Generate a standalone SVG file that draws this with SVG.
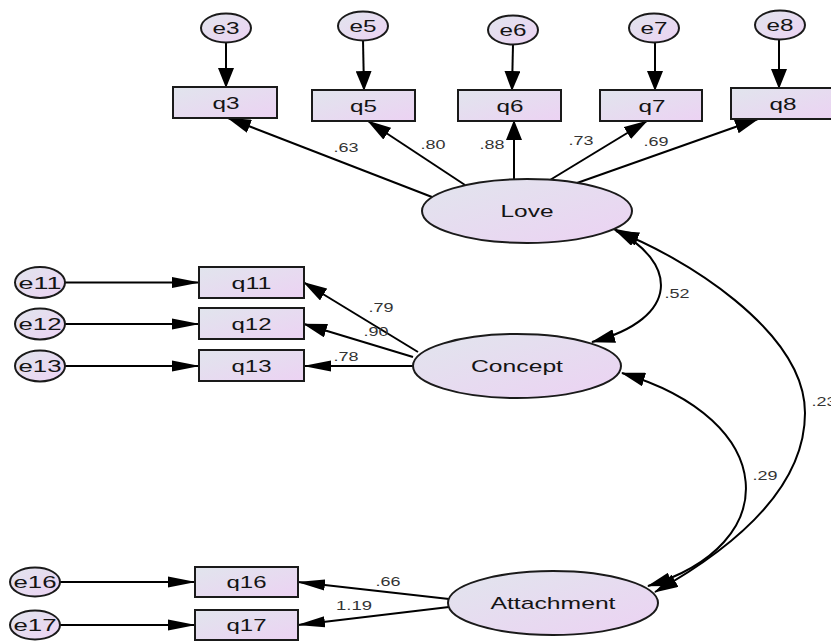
<svg xmlns="http://www.w3.org/2000/svg" width="831" height="643" viewBox="0 0 831 643">
<defs>
<linearGradient id="fillG" x1="0" y1="0" x2="1" y2="1">
<stop offset="0" stop-color="#e1e5ed"/>
<stop offset="1" stop-color="#ecd2f3"/>
</linearGradient>
<marker id="ah" markerUnits="userSpaceOnUse" markerWidth="28" markerHeight="12" refX="27" refY="5.5" orient="auto" viewBox="0 0 28 11"><path d="M0,0 L28,5.5 L0,11 z" fill="#000"/></marker>
<marker id="av" markerUnits="userSpaceOnUse" markerWidth="20" markerHeight="16" refX="19" refY="8" orient="auto" viewBox="0 0 20 16"><path d="M0,0 L20,8 L0,16 z" fill="#000"/></marker>
<marker id="ad" markerUnits="userSpaceOnUse" markerWidth="24" markerHeight="14" refX="23" refY="7" orient="auto" viewBox="0 0 24 14"><path d="M0,0 L24,7 L0,14 z" fill="#000"/></marker>
<marker id="ac" markerUnits="userSpaceOnUse" markerWidth="24" markerHeight="14" refX="23" refY="7" orient="auto-start-reverse" viewBox="0 0 24 14"><path d="M0,0 L24,7 L0,14 z" fill="#000"/></marker>
<style>
.box{fill:url(#fillG);stroke:#1a1a1a;stroke-width:2}
.lat{fill:url(#fillG);stroke:#1a1a1a;stroke-width:2}
.err{fill:url(#fillG);stroke:#1a1a1a;stroke-width:2}
.lbl{font-family:"Liberation Sans",Arial,sans-serif;font-size:17px;fill:#141414;text-anchor:middle}
.num{font-family:"Liberation Sans",Arial,sans-serif;font-size:13px;fill:#333;text-anchor:middle}
.ln{fill:none;stroke:#000;stroke-width:2}
.h{marker-end:url(#ah)}
.v{marker-end:url(#av)}
.d{marker-end:url(#ad)}
.c{marker-start:url(#ac);marker-end:url(#ac)}
</style>
</defs>
<rect x="0" y="0" width="831" height="643" fill="#fff"/>

<g id="connectors">
<line class="ln v" x1="226" y1="42" x2="226" y2="87"/>
<line class="ln v" x1="363" y1="40" x2="364" y2="90"/>
<line class="ln v" x1="513" y1="44" x2="512" y2="90"/>
<line class="ln v" x1="655" y1="42" x2="655" y2="90"/>
<line class="ln v" x1="779" y1="39" x2="779" y2="88"/>
<line class="ln d" x1="432" y1="197" x2="228" y2="118"/>
<line class="ln d" x1="465" y1="185" x2="368" y2="121"/>
<line class="ln v" x1="514" y1="179" x2="514" y2="121"/>
<line class="ln d" x1="550" y1="180" x2="647" y2="121"/>
<line class="ln d" x1="577" y1="183" x2="758" y2="119"/>
<line class="ln h" x1="65" y1="282.5" x2="199" y2="282.5"/>
<line class="ln h" x1="65" y1="324" x2="199" y2="324"/>
<line class="ln h" x1="65" y1="366" x2="199" y2="366"/>
<line class="ln d" x1="418" y1="352" x2="304" y2="282.5"/>
<line class="ln d" x1="413" y1="357" x2="304" y2="324"/>
<line class="ln h" x1="413" y1="366" x2="304" y2="366"/>
<line class="ln h" x1="60" y1="582" x2="195" y2="582"/>
<line class="ln h" x1="60" y1="625" x2="195" y2="625"/>
<line class="ln h" x1="449" y1="599" x2="298" y2="582"/>
<line class="ln h" x1="449" y1="607" x2="298" y2="625"/>
<path class="ln c" d="M614,229 C678,262 682,318 592,342"/>
<path class="ln c" d="M622,373 C780,420 785,545 648,586"/>
<path class="ln c" d="M616,231 C680,255 805,330 805,413 C805,490 730,550 655,592"/>
<text class="num" x="346" y="152" textLength="25" lengthAdjust="spacingAndGlyphs">.63</text>
<text class="num" x="433" y="149" textLength="25" lengthAdjust="spacingAndGlyphs">.80</text>
<text class="num" x="492" y="149" textLength="25" lengthAdjust="spacingAndGlyphs">.88</text>
<text class="num" x="581" y="145" textLength="25" lengthAdjust="spacingAndGlyphs">.73</text>
<text class="num" x="656" y="146" textLength="25" lengthAdjust="spacingAndGlyphs">.69</text>
<text class="num" x="381" y="312" textLength="25" lengthAdjust="spacingAndGlyphs">.79</text>
<text class="num" x="376" y="336" textLength="25" lengthAdjust="spacingAndGlyphs">.90</text>
<text class="num" x="346" y="361" textLength="25" lengthAdjust="spacingAndGlyphs">.78</text>
<text class="num" x="388" y="586" textLength="25" lengthAdjust="spacingAndGlyphs">.66</text>
<text class="num" x="354" y="610" textLength="36" lengthAdjust="spacingAndGlyphs">1.19</text>
<text class="num" x="677" y="298" textLength="25" lengthAdjust="spacingAndGlyphs">.52</text>
<text class="num" x="765" y="480" textLength="25" lengthAdjust="spacingAndGlyphs">.29</text>
<text class="num" x="824" y="406" textLength="25" lengthAdjust="spacingAndGlyphs">.23</text>
</g>

<g id="e3"><ellipse class="err" cx="226" cy="28" rx="25" ry="14.5"/><text class="lbl" x="226" y="34" textLength="27" lengthAdjust="spacingAndGlyphs">e3</text></g>
<g id="e5"><ellipse class="err" cx="363" cy="26" rx="25" ry="14.5"/><text class="lbl" x="363" y="32" textLength="27" lengthAdjust="spacingAndGlyphs">e5</text></g>
<g id="e6"><ellipse class="err" cx="513" cy="30" rx="25" ry="14.5"/><text class="lbl" x="513" y="36" textLength="27" lengthAdjust="spacingAndGlyphs">e6</text></g>
<g id="e7"><ellipse class="err" cx="654" cy="28" rx="25" ry="14.5"/><text class="lbl" x="654" y="34" textLength="27" lengthAdjust="spacingAndGlyphs">e7</text></g>
<g id="e8"><ellipse class="err" cx="780" cy="25" rx="25" ry="14.5"/><text class="lbl" x="780" y="31" textLength="27" lengthAdjust="spacingAndGlyphs">e8</text></g>

<g id="q3"><rect class="box" x="173" y="87" width="104" height="31"/><text class="lbl" x="226" y="108.5" textLength="27" lengthAdjust="spacingAndGlyphs">q3</text></g>
<g id="q5"><rect class="box" x="312" y="90" width="103" height="31"/><text class="lbl" x="363.5" y="111.5" textLength="27" lengthAdjust="spacingAndGlyphs">q5</text></g>
<g id="q6"><rect class="box" x="458" y="90" width="103" height="31"/><text class="lbl" x="510" y="111.5" textLength="27" lengthAdjust="spacingAndGlyphs">q6</text></g>
<g id="q7"><rect class="box" x="600" y="90" width="102" height="31"/><text class="lbl" x="652" y="111.5" textLength="27" lengthAdjust="spacingAndGlyphs">q7</text></g>
<g id="q8"><rect class="box" x="731" y="88" width="105" height="31"/><text class="lbl" x="783" y="109.5" textLength="27" lengthAdjust="spacingAndGlyphs">q8</text></g>

<g id="Love"><ellipse class="lat" cx="527" cy="211" rx="105" ry="32"/><text class="lbl" x="527" y="217" textLength="53" lengthAdjust="spacingAndGlyphs">Love</text></g>
<g id="Concept"><ellipse class="lat" cx="517" cy="366" rx="104" ry="32"/><text class="lbl" x="517" y="372" textLength="92" lengthAdjust="spacingAndGlyphs">Concept</text></g>
<g id="Attachment"><ellipse class="lat" cx="553" cy="603" rx="105" ry="32"/><text class="lbl" x="553" y="609" textLength="125" lengthAdjust="spacingAndGlyphs">Attachment</text></g>

<g id="e11"><ellipse class="err" cx="40" cy="282.5" rx="25" ry="15.5"/><text class="lbl" x="40" y="288.5" textLength="43" lengthAdjust="spacingAndGlyphs">e11</text></g>
<g id="e12"><ellipse class="err" cx="40" cy="324" rx="25" ry="15.5"/><text class="lbl" x="40" y="330" textLength="43" lengthAdjust="spacingAndGlyphs">e12</text></g>
<g id="e13"><ellipse class="err" cx="40" cy="366" rx="25" ry="15.5"/><text class="lbl" x="40" y="372" textLength="43" lengthAdjust="spacingAndGlyphs">e13</text></g>
<g id="q11"><rect class="box" x="199" y="267" width="105" height="31"/><text class="lbl" x="251.5" y="288.5" textLength="40" lengthAdjust="spacingAndGlyphs">q11</text></g>
<g id="q12"><rect class="box" x="199" y="308" width="105" height="31"/><text class="lbl" x="251.5" y="329.5" textLength="40" lengthAdjust="spacingAndGlyphs">q12</text></g>
<g id="q13"><rect class="box" x="199" y="350" width="105" height="31"/><text class="lbl" x="251.5" y="371.5" textLength="40" lengthAdjust="spacingAndGlyphs">q13</text></g>

<g id="e16"><ellipse class="err" cx="35" cy="582" rx="25" ry="14.5"/><text class="lbl" x="35" y="588" textLength="43" lengthAdjust="spacingAndGlyphs">e16</text></g>
<g id="e17"><ellipse class="err" cx="35" cy="625" rx="25" ry="14.5"/><text class="lbl" x="35" y="631" textLength="43" lengthAdjust="spacingAndGlyphs">e17</text></g>
<g id="q16"><rect class="box" x="195" y="567" width="103" height="30"/><text class="lbl" x="246.5" y="588" textLength="40" lengthAdjust="spacingAndGlyphs">q16</text></g>
<g id="q17"><rect class="box" x="195" y="610" width="103" height="30"/><text class="lbl" x="246.5" y="631" textLength="40" lengthAdjust="spacingAndGlyphs">q17</text></g>
</svg>
